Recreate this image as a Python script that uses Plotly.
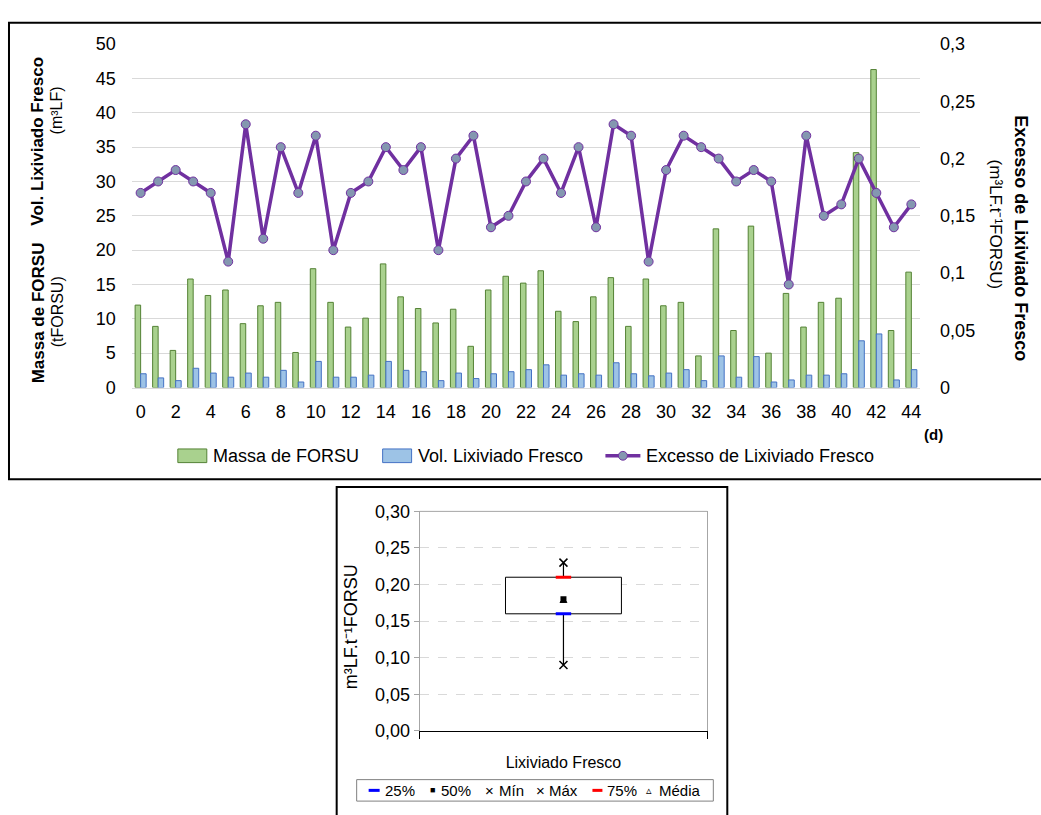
import numpy as np
import plotly.graph_objects as go

# Daily series (days 0..44)
dias = list(range(45))
massa_forsu = [12.0, 8.9, 5.4, 15.8, 13.4, 14.2, 9.3, 11.9, 12.4, 5.1,
               17.3, 12.4, 8.8, 10.1, 18.0, 13.2, 11.5, 9.4, 11.4, 6.0,
               14.2, 16.2, 15.2, 17.0, 11.1, 9.6, 13.2, 16.0, 8.9, 15.8,
               11.9, 12.4, 4.6, 23.1, 8.3, 23.5, 5.0, 13.7, 8.8, 12.4,
               13.0, 34.2, 46.3, 8.3, 16.8]
vol_lixiviado = [2.0, 1.4, 1.0, 2.8, 2.1, 1.5, 2.1, 1.5, 2.5, 0.8,
                 3.8, 1.5, 1.5, 1.8, 3.8, 2.5, 2.3, 1.0, 2.1, 1.3,
                 2.0, 2.3, 2.6, 3.3, 1.8, 2.0, 1.8, 3.6, 2.0, 1.7,
                 2.1, 2.6, 1.0, 4.6, 1.5, 4.5, 0.8, 1.1, 1.8, 1.8,
                 2.0, 6.8, 7.8, 1.1, 2.6]
excesso = [0.17, 0.18, 0.19, 0.18, 0.17, 0.11, 0.23, 0.13, 0.21, 0.17,
           0.22, 0.12, 0.17, 0.18, 0.21, 0.19, 0.21, 0.12, 0.20, 0.22,
           0.14, 0.15, 0.18, 0.20, 0.17, 0.21, 0.14, 0.23, 0.22, 0.11,
           0.19, 0.22, 0.21, 0.20, 0.18, 0.19, 0.18, 0.09, 0.22, 0.15,
           0.16, 0.20, 0.17, 0.14, 0.16]
dias_ticks = list(range(0, 45, 2))
categoria_box = ["Lixiviado Fresco"]

# Summary statistics of the excess series
arr = np.array(excesso)
q1, mediana, q3 = np.percentile(arr, [25, 50, 75])
vmin, vmax, media = arr.min(), arr.max(), arr.mean()

W, H = 1041, 815
FONT = "Liberation Sans Narrow, Arial Narrow, Liberation Sans, Arial, sans-serif"


def px(x):
    return x / W


def py(y):
    return 1 - y / H


fig = go.Figure()

# --- daily chart ---
fig.add_trace(go.Bar(x=dias, y=massa_forsu, name="Massa de FORSU",
                     marker=dict(color="#a9d18e", line=dict(color="#548235", width=1)),
                     xaxis="x", yaxis="y", showlegend=False))
fig.add_trace(go.Bar(x=dias, y=vol_lixiviado, name="Vol. Lixiviado Fresco",
                     marker=dict(color="#9dc3e6", line=dict(color="#4472c4", width=1)),
                     xaxis="x", yaxis="y", showlegend=False))
fig.add_trace(go.Scatter(x=dias, y=excesso, name="Excesso de Lixiviado Fresco",
                         mode="lines+markers",
                         line=dict(color="#7030a0", width=3.5),
                         marker=dict(symbol="circle", size=9, color="#8497b0",
                                     line=dict(color="#7030a0", width=1)),
                         xaxis="x", yaxis="y2", showlegend=False))

# --- box summary chart ---
fig.add_trace(go.Scatter(x=categoria_box * 5, y=[vmin, q1, None, q3, vmax],
                         mode="lines", line=dict(color="black", width=1.2),
                         xaxis="x3", yaxis="y3", showlegend=False, connectgaps=False))
fig.add_trace(go.Bar(x=categoria_box, y=[q3 - q1], base=[q1], width=0.403,
                     marker=dict(color="white", line=dict(color="black", width=1)),
                     xaxis="x3", yaxis="y3", showlegend=False))
fig.add_trace(go.Scatter(x=categoria_box, y=[q1], mode="markers", name="25%",
                         marker=dict(symbol="line-ew", size=11, line=dict(color="#0000ff", width=3)),
                         xaxis="x3", yaxis="y3", showlegend=False))
fig.add_trace(go.Scatter(x=categoria_box, y=[q3], mode="markers", name="75%",
                         marker=dict(symbol="line-ew", size=11, line=dict(color="#ff0000", width=3)),
                         xaxis="x3", yaxis="y3", showlegend=False))
fig.add_trace(go.Scatter(x=categoria_box, y=[mediana], mode="markers", name="50%",
                         marker=dict(symbol="square", size=6, color="black"),
                         xaxis="x3", yaxis="y3", showlegend=False))
fig.add_trace(go.Scatter(x=categoria_box, y=[media], mode="markers", name="Média",
                         marker=dict(symbol="triangle-up-open", size=6, color="black",
                                     line=dict(color="black", width=1)),
                         xaxis="x3", yaxis="y3", showlegend=False))
fig.add_trace(go.Scatter(x=categoria_box * 2, y=[vmin, vmax], mode="markers", name="Mín / Máx",
                         marker=dict(symbol="x-thin", size=8, color="black",
                                     line=dict(color="black", width=1.5)),
                         xaxis="x3", yaxis="y3", showlegend=False))

tick_font = dict(family=FONT, size=18, color="black")

fig.update_layout(
    width=W, height=H,
    margin=dict(l=0, r=0, t=0, b=0),
    paper_bgcolor="white", plot_bgcolor="white",
    separators=",.",
    font=dict(family=FONT, color="black"),
    barmode="group", bargap=0.37, bargroupgap=0,
    showlegend=False,
    xaxis=dict(domain=[px(132), px(921)], anchor="y", range=[-0.5, 44.5],
               tickvals=dias_ticks, showgrid=False, showline=True, linecolor="#d9d9d9",
               ticks="", tickfont=tick_font, zeroline=False, ticklabelstandoff=8),
    yaxis=dict(domain=[py(387), py(35)], anchor="x", range=[0, 50], dtick=5,
               showgrid=True, gridcolor="#d9d9d9", gridwidth=1, zeroline=False,
               ticks="", tickfont=tick_font, ticklabelstandoff=15),
    yaxis2=dict(overlaying="y", side="right", anchor="x", range=[0, 0.3], dtick=0.05,
                showgrid=False, zeroline=False, ticks="", tickfont=tick_font,
                ticklabelstandoff=19),
    xaxis3=dict(domain=[px(420), px(708)], anchor="y3", type="category",
                range=[-0.5, 0.5], showgrid=False, showline=True, linecolor="black",
                linewidth=1.2, ticks="outside", tickson="boundaries", ticklen=7,
                tickcolor="black", tickfont=dict(family=FONT, size=16, color="black"),
                ticklabelstandoff=17, zeroline=False),
    yaxis3=dict(domain=[py(739), py(514)], anchor="x3", range=[0, 0.30], dtick=0.05,
                tickformat=".2f", showgrid=True, gridcolor="#d9d9d9", griddash="dash",
                showline=True, linecolor="#a6a6a6", mirror=True, ticks="outside",
                ticklen=5, tickcolor="#a6a6a6", zeroline=False,
                tickfont=dict(family=FONT, size=18, color="black")),
)

shapes = []
# outer frames
shapes.append(dict(type="rect", xref="paper", yref="paper", x0=px(9), x1=px(1046),
                   y0=py(481), y1=py(13), line=dict(color="black", width=2)))
shapes.append(dict(type="rect", xref="paper", yref="paper", x0=px(337), x1=px(728),
                   y0=py(830), y1=py(489), line=dict(color="black", width=2)))
# top edge of the box-plot area
shapes.append(dict(type="line", xref="paper", yref="paper", x0=px(420), x1=px(708),
                   y0=py(514), y1=py(514), line=dict(color="#a6a6a6", width=1)))

# legend of the daily chart
ly = 457
shapes.append(dict(type="rect", xref="paper", yref="paper", x0=px(178), x1=px(207),
                   y0=py(464), y1=py(450), fillcolor="#a9d18e", line=dict(color="#548235", width=1)))
shapes.append(dict(type="rect", xref="paper", yref="paper", x0=px(383), x1=px(412),
                   y0=py(464), y1=py(450), fillcolor="#9dc3e6", line=dict(color="#4472c4", width=1)))
shapes.append(dict(type="line", xref="paper", yref="paper", x0=px(606), x1=px(641),
                   y0=py(ly), y1=py(ly), line=dict(color="#7030a0", width=3.5)))
shapes.append(dict(type="circle", xref="paper", yref="paper", x0=px(619), x1=px(628),
                   y0=py(ly + 4.5), y1=py(ly - 4.5), fillcolor="#8497b0",
                   line=dict(color="#7030a0", width=1)))

# legend of the box chart
shapes.append(dict(type="rect", xref="paper", yref="paper", x0=px(357), x1=px(714),
                   y0=py(811), y1=py(789), line=dict(color="#808080", width=1)))
shapes.append(dict(type="line", xref="paper", yref="paper", x0=px(369), x1=px(380),
                   y0=py(800), y1=py(800), line=dict(color="#0000ff", width=3)))
shapes.append(dict(type="line", xref="paper", yref="paper", x0=px(593), x1=px(603),
                   y0=py(800), y1=py(800), line=dict(color="#ff0000", width=3)))

fig.update_layout(shapes=shapes)

ann = []


def text(x, y, s, size=18, angle=0, xanchor="center", yanchor="middle"):
    ann.append(dict(x=px(x), y=py(y), xref="paper", yref="paper", text=s, showarrow=False,
                    textangle=angle, xanchor=xanchor, yanchor=yanchor,
                    font=dict(family=FONT, size=size, color="black")))


text(38, 134, "<b>Vol. Lixiviado Fresco</b>", 17, -90)
text(57, 103, "(m³LF)", 16, -90)
text(38, 310, "<b>Massa de FORSU</b>", 17, -90)
text(57, 309, "(tFORSU)", 16, -90)
text(1022, 234, "<b>Excesso de Lixiviado Fresco</b>", 18, 90)
text(996, 220, "(m³LF.t⁻¹FORSU)", 17, 90)
text(934, 435, "<b>(d)</b>", 15)

text(211, ly, "Massa de FORSU", 18, xanchor="left")
text(416, ly, "Vol. Lixiviado Fresco", 18, xanchor="left")
text(645, ly, "Excesso de Lixiviado Fresco", 18, xanchor="left")

text(352, 632, "m³LF.t⁻¹FORSU", 18, -90)

# box legend labels
text(383, 800, "25%", 15, xanchor="left")
text(433, 800, "■", 9)
text(439, 800, "50%", 15, xanchor="left")
text(490, 800, "×", 15)
text(497, 800, "Mín", 15, xanchor="left")
text(541, 800, "×", 15)
text(548, 800, "Máx", 15, xanchor="left")
text(606, 800, "75%", 15, xanchor="left")
text(650, 800, "▵", 11)
text(658, 800, "Média", 15, xanchor="left")

fig.update_layout(annotations=ann)

fig.write_html("out.html")
